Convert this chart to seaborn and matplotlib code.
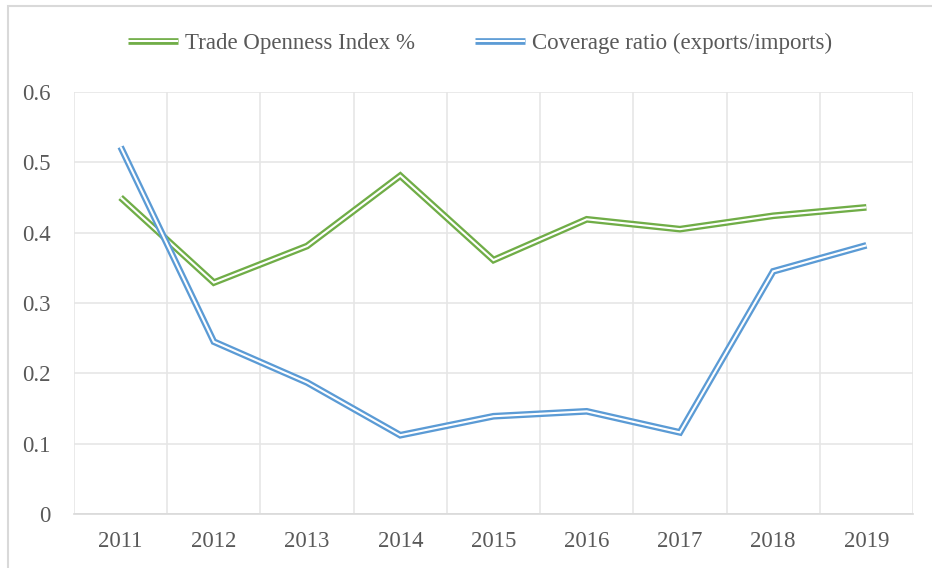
import numpy as np
import pandas as pd
import seaborn as sns
import matplotlib
matplotlib.use("Agg")
import matplotlib.pyplot as plt
from matplotlib.lines import Line2D
from matplotlib.patches import Rectangle

years = ["2011", "2012", "2013", "2014", "2015", "2016", "2017", "2018", "2019"]
trade_openness = [0.450, 0.329, 0.381, 0.481, 0.361, 0.419, 0.405, 0.424, 0.436]
coverage_ratio = [0.522, 0.245, 0.187, 0.112, 0.139, 0.146, 0.116, 0.345, 0.382]
series_names = ["Trade Openness Index %", "Coverage ratio (exports/imports)"]
y_ticks = [0, 0.1, 0.2, 0.3, 0.4, 0.5, 0.6]
y_tick_labels = ["0", "0.1", "0.2", "0.3", "0.4", "0.5", "0.6"]

colors = {series_names[0]: "#70AD47", series_names[1]: "#5B9BD5"}

df = pd.DataFrame({
    "Year": years * 2,
    "Value": trade_openness + coverage_ratio,
    "Series": [series_names[0]] * len(years) + [series_names[1]] * len(years),
})

sns.set_theme(style="white")
plt.rcParams["font.family"] = ["Liberation Serif", "DejaVu Serif"]
text_color = "#595959"
grid_color = "#e6e6e6"

W, H = 932, 568
fig = plt.figure(figsize=(W / 100, H / 100), dpi=100)
ax = fig.add_axes([74 / W, 1 - 514 / H, (913 - 74) / W, (514 - 92) / H])

outer_lw = 4.8
inner_lw = 1.5
for name in series_names:
    sub = df[df["Series"] == name]
    sns.lineplot(data=sub, x="Year", y="Value", ax=ax, color=colors[name],
                 lw=outer_lw, legend=False, solid_joinstyle="miter",
                 solid_capstyle="butt", zorder=3)
    sns.lineplot(data=sub, x="Year", y="Value", ax=ax, color="white",
                 lw=inner_lw, legend=False, solid_joinstyle="miter",
                 solid_capstyle="butt", zorder=3)

ax.set_xlim(-0.5, len(years) - 0.5)
ax.set_ylim(0, 0.6)
ax.set_yticks(y_ticks)
ax.set_yticklabels(y_tick_labels)
ax.set_xticks(range(len(years)))
ax.set_xticklabels(years)
ax.set_xticks(np.arange(-0.5, len(years), 1.0), minor=True)
ax.grid(False)
ax.yaxis.grid(True, color=grid_color, lw=1.2)
ax.xaxis.grid(True, which="minor", color=grid_color, lw=1.2)
ax.set_axisbelow(True)
ax.set_xlabel("")
ax.set_ylabel("")
for s in ["top", "right", "left"]:
    ax.spines[s].set_visible(False)
ax.spines["bottom"].set_color("#d9d9d9")
ax.spines["bottom"].set_linewidth(1.2)
ax.tick_params(axis="both", which="both", length=0, labelsize=16.5, colors=text_color)
ax.tick_params(axis="y", pad=17)
ax.tick_params(axis="x", pad=12)

handles = []
for name in series_names:
    h1 = Line2D([0], [0], color=colors[name], lw=outer_lw, solid_capstyle="butt")
    h2 = Line2D([0], [0], color="white", lw=inner_lw, solid_capstyle="butt")
    handles.append((h1, h2))
leg = fig.legend(handles, series_names, loc="center", bbox_to_anchor=(480 / W, 1 - 43 / H),
                 ncol=2, frameon=False, fontsize=16.5, handlelength=2.2,
                 handletextpad=0.3, columnspacing=2.6)
for t in leg.get_texts():
    t.set_color(text_color)

fig.patches.append(Rectangle((8 / W, -0.1), 1.0, 1.1 - 6 / H, transform=fig.transFigure,
                             fill=False, edgecolor="#d9d9d9", lw=1.5, zorder=0))

fig.savefig("out.png", dpi=100, facecolor="white")
